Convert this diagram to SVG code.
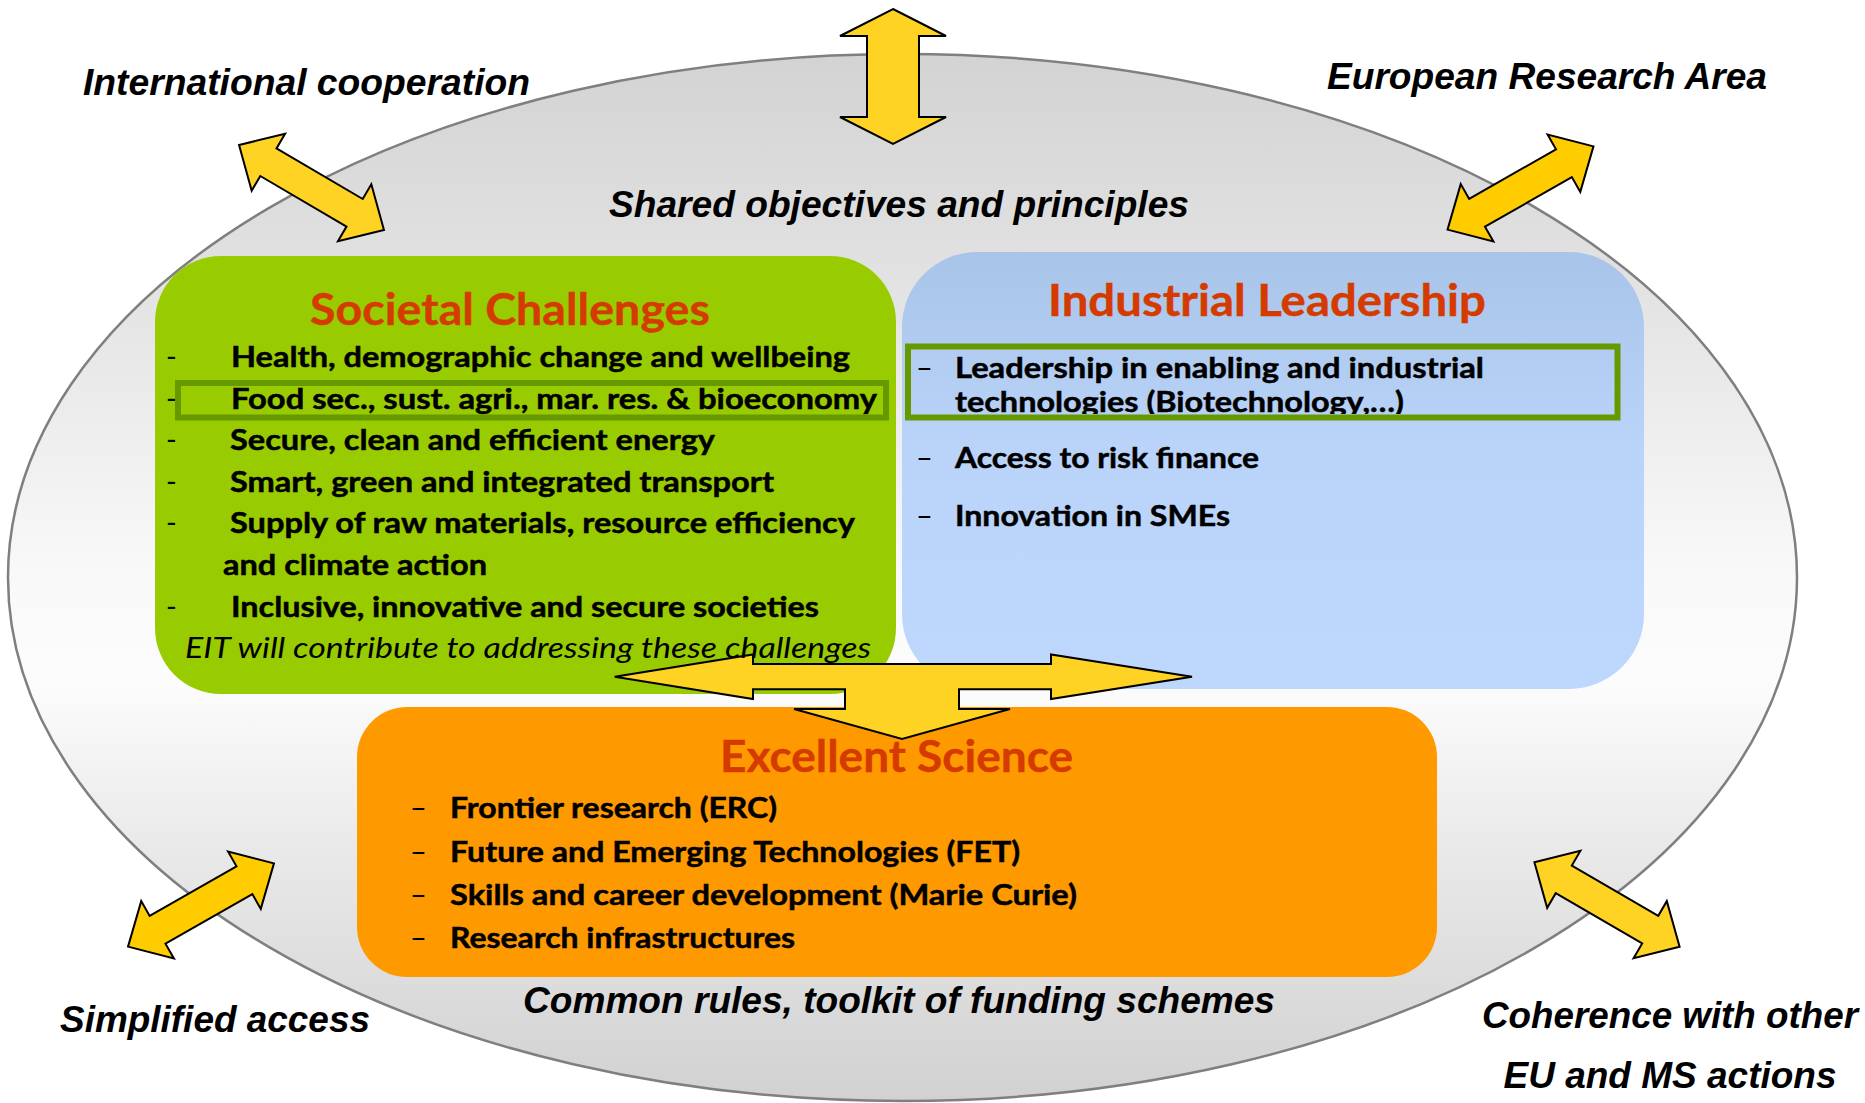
<svg xmlns="http://www.w3.org/2000/svg" xmlns:xlink="http://www.w3.org/1999/xlink" width="1865" height="1103" viewBox="0 0 1865 1103">
<defs>
  <linearGradient id="gEll" x1="0" y1="0" x2="0" y2="1">
    <stop offset="0" stop-color="#D3D3D3"/>
    <stop offset="0.2" stop-color="#E1E1E1"/>
    <stop offset="0.5" stop-color="#F9F9F9"/>
    <stop offset="0.6" stop-color="#FCFCFC"/>
    <stop offset="0.76" stop-color="#E9E9E9"/>
    <stop offset="1" stop-color="#D1D1D1"/>
  </linearGradient>
  <linearGradient id="gBlue" x1="0" y1="0" x2="0" y2="1">
    <stop offset="0" stop-color="#A9C4E9"/>
    <stop offset="0.45" stop-color="#B9D4F8"/>
    <stop offset="1" stop-color="#BDD8FC"/>
  </linearGradient>
  <path id="dblArrow" d="M -84,0 L -50,-33 L -50,-16 L 50,-16 L 50,-33 L 84,0 L 50,33 L 50,16 L -50,16 L -50,33 Z"/>
  <clipPath id="clipLead"><rect x="900" y="300" width="740" height="114"/></clipPath>
</defs>
<style>
  .lbl { font-family: "Liberation Sans", Arial, sans-serif; font-weight: bold; font-style: italic; font-size: 37px; fill: #000; }
  .ttl { font-family: Lato, "Open Sans", sans-serif; font-weight: bold; font-size: 43px; fill: #D53A00; stroke: #D53A00; stroke-width: 0.4; }
  .itm { font-family: Lato, "Open Sans", sans-serif; font-weight: bold; font-size: 29px; fill: #000; stroke: #000; stroke-width: 0.5; }
  .dash { font-family: Lato, "Open Sans", sans-serif; font-size: 29px; fill: #000; }
  .note { font-family: Lato, "Open Sans", sans-serif; font-style: italic; font-size: 29px; fill: #000; }
  .arrow { fill: #FFD324; stroke: #000; stroke-width: 2; stroke-linejoin: miter; }
  .arrow2 { fill: #FFCC00; stroke: #000; stroke-width: 2; stroke-linejoin: miter; }
  .hl { fill: none; stroke: #669900; stroke-width: 6; }
</style>

<rect x="0" y="0" width="1865" height="1103" fill="#FFFFFF"/>

<g id="framework">
  <ellipse cx="902.5" cy="577.5" rx="894.5" ry="523.5" fill="url(#gEll)" stroke="#7F7F7F" stroke-width="2.5"/>
  <text class="lbl" x="609" y="217" textLength="580" lengthAdjust="spacingAndGlyphs">Shared objectives and principles</text>
  <text class="lbl" x="523" y="1013" textLength="752" lengthAdjust="spacingAndGlyphs">Common rules, toolkit of funding schemes</text>
</g>

<g id="societal-challenges">
  <rect x="155" y="256" width="741" height="438" rx="66" ry="66" fill="#99CC00"/>
  <text class="ttl" x="310" y="325" textLength="400" lengthAdjust="spacingAndGlyphs">Societal Challenges</text>
  <text class="dash" x="166" y="367">-</text>
  <text class="itm" x="231" y="367" textLength="619" lengthAdjust="spacingAndGlyphs">Health, demographic change and wellbeing</text>
  <text class="dash" x="166" y="408.5">-</text>
  <text class="itm" x="231" y="408.5" textLength="646" lengthAdjust="spacingAndGlyphs">Food sec., sust. agri., mar. res. &amp; bioeconomy</text>
  <text class="dash" x="166" y="450">-</text>
  <text class="itm" x="230" y="450" textLength="485" lengthAdjust="spacingAndGlyphs">Secure, clean and efficient energy</text>
  <text class="dash" x="166" y="492">-</text>
  <text class="itm" x="230" y="492" textLength="544" lengthAdjust="spacingAndGlyphs">Smart, green and integrated transport</text>
  <text class="dash" x="166" y="533">-</text>
  <text class="itm" x="230" y="533" textLength="625" lengthAdjust="spacingAndGlyphs">Supply of raw materials, resource efficiency</text>
  <text class="itm" x="223" y="575" textLength="264" lengthAdjust="spacingAndGlyphs">and climate action</text>
  <text class="dash" x="166" y="617">-</text>
  <text class="itm" x="231" y="617" textLength="588" lengthAdjust="spacingAndGlyphs">Inclusive, innovative and secure societies</text>
  <rect class="hl" x="178" y="383" width="708" height="34.5"/>
</g>

<g id="industrial-leadership">
  <rect x="902" y="252" width="742" height="437" rx="75" ry="75" fill="url(#gBlue)"/>
  <text class="ttl" x="1048" y="316" textLength="438" lengthAdjust="spacingAndGlyphs">Industrial Leadership</text>
  <text class="dash" x="916" y="378">–</text>
  <text class="itm" x="955" y="378" textLength="529" lengthAdjust="spacingAndGlyphs">Leadership in enabling and industrial</text>
  <text class="itm" x="955" y="412" textLength="449" lengthAdjust="spacingAndGlyphs" clip-path="url(#clipLead)">technologies (Biotechnology,…)</text>
  <rect class="hl" x="908" y="346.5" width="709.5" height="71"/>
  <text class="dash" x="916" y="468">–</text>
  <text class="itm" x="955" y="468" textLength="304" lengthAdjust="spacingAndGlyphs">Access to risk finance</text>
  <text class="dash" x="916" y="526">–</text>
  <text class="itm" x="955" y="526" textLength="275" lengthAdjust="spacingAndGlyphs">Innovation in SMEs</text>
</g>

<g id="excellent-science">
  <rect x="357" y="707" width="1080" height="270" rx="50" ry="50" fill="#FF9900"/>
  <text class="ttl" x="720" y="772" textLength="353" lengthAdjust="spacingAndGlyphs">Excellent Science</text>
  <text class="dash" x="410" y="818">–</text>
  <text class="itm" x="450" y="818" textLength="327" lengthAdjust="spacingAndGlyphs">Frontier research (ERC)</text>
  <text class="dash" x="410" y="862">–</text>
  <text class="itm" x="450" y="862" textLength="570" lengthAdjust="spacingAndGlyphs">Future and Emerging Technologies (FET)</text>
  <text class="dash" x="410" y="905">–</text>
  <text class="itm" x="450" y="905" textLength="627" lengthAdjust="spacingAndGlyphs">Skills and career development (Marie Curie)</text>
  <text class="dash" x="410" y="948">–</text>
  <text class="itm" x="450" y="948" textLength="345" lengthAdjust="spacingAndGlyphs">Research infrastructures</text>
</g>

<g id="connectors">
  <path class="arrow" d="M 893,9 L 946,36 L 919,36 L 919,117 L 946,117 L 893,144 L 840,117 L 867,117 L 867,36 L 840,36 Z"/>
  <use xlink:href="#dblArrow" href="#dblArrow" class="arrow" transform="translate(311.5,187.5) rotate(30.4)"/>
  <use xlink:href="#dblArrow" href="#dblArrow" class="arrow2" transform="translate(1520.5,188) rotate(-29.7)"/>
  <use xlink:href="#dblArrow" href="#dblArrow" class="arrow2" transform="translate(201,905) rotate(-29.7)"/>
  <use xlink:href="#dblArrow" href="#dblArrow" class="arrow" transform="translate(1607,904.5) rotate(30.2)"/>
  <path class="arrow" d="M 614.7,676.7 L 753,654.5 L 753,664 L 1051,664 L 1051,654.5 L 1192,676.7 L 1051,699 L 1051,689.3 L 959,689.3 L 959,709 L 1010,709 L 902,739 L 794,709 L 845,709 L 845,689.3 L 753,689.3 L 753,699 Z"/>
</g>

<g id="eit-note">
  <text class="note" x="185" y="658" textLength="686" lengthAdjust="spacingAndGlyphs">EIT will contribute to addressing these challenges</text>
</g>

<g id="international-cooperation">
  <text class="lbl" x="83" y="95" textLength="447" lengthAdjust="spacingAndGlyphs">International cooperation</text>
</g>
<g id="european-research-area">
  <text class="lbl" x="1327" y="89" textLength="440" lengthAdjust="spacingAndGlyphs">European Research Area</text>
</g>
<g id="simplified-access">
  <text class="lbl" x="60" y="1032" textLength="310" lengthAdjust="spacingAndGlyphs">Simplified access</text>
</g>
<g id="coherence">
  <text class="lbl" x="1670" y="1028" text-anchor="middle" textLength="376" lengthAdjust="spacingAndGlyphs">Coherence with other</text>
  <text class="lbl" x="1670" y="1088" text-anchor="middle" textLength="333" lengthAdjust="spacingAndGlyphs">EU and MS actions</text>
</g>
</svg>
